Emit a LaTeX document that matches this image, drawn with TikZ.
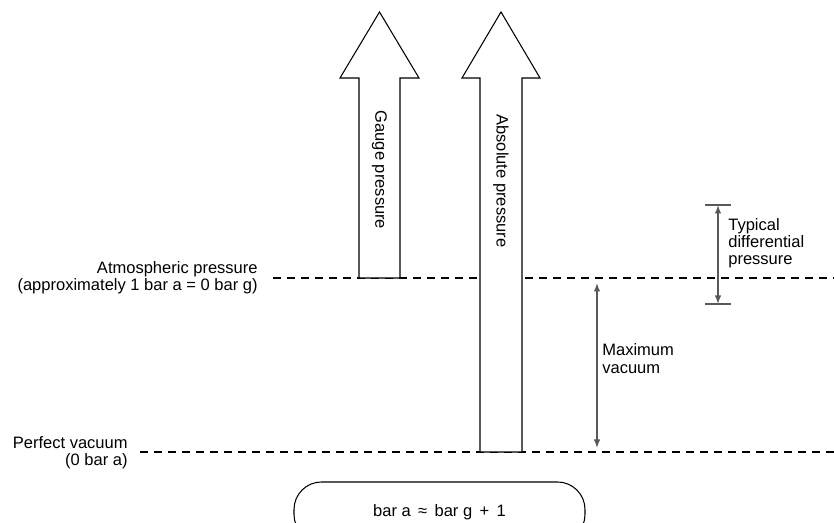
\documentclass[tikz,border=0pt]{standalone}
\usepackage{fontspec}
\setmainfont{Liberation Sans}
\usetikzlibrary{arrows.meta,positioning,calc}

\begin{document}
\begin{tikzpicture}[
  lbl/.style={inner sep=0pt, font=\fontsize{9.4}{9.8}\selectfont},
  level/.style={draw, line width=0.6pt, dash pattern=on 0.16cm off 0.12cm},
  bigarr/.style={draw, fill=white, line width=0.6pt, line join=miter},
  dim/.style={{Latex[length=1.7mm,width=1.3mm]}-{Latex[length=1.7mm,width=1.3mm]},
    draw=black!65, line width=0.8pt},
  bar/.style={draw=black!65, line width=0.8pt},
  formula/.style={draw, line width=0.6pt, rounded corners=0.55cm,
    minimum width=5.82cm, minimum height=1.2cm, font=\fontsize{9.4}{9.8}\selectfont}]
\useasboundingbox (0,0) rectangle (16.68,10.46);
\clip (0,0) rectangle (16.68,10.46);
% levels
\coordinate (atmL) at (5.46,4.90);
\coordinate (atmR) at (16.68,4.90);
\coordinate (vacL) at (2.80,1.42);
\coordinate (vacR) at (16.68,1.42);
\draw[level] (atmL) -- (atmR);
\draw[level] (vacL) -- (vacR);
\node[lbl, anchor=east, align=right] (atm) at (5.16,4.91)
  {Atmospheric pressure\\(approximately 1 bar a = 0 bar g)};
\node[lbl, anchor=east, align=right] (vac) at (2.56,1.40)
  {Perfect vacuum\\(0 bar a)};
% gauge arrow
\draw[bigarr] (7.18,4.90) -- (7.18,8.90) -- (6.80,8.90) -- (7.59,10.22)
  -- (8.38,8.90) -- (8.00,8.90) -- (8.00,4.90) -- cycle;
\node[lbl, rotate=-90] (gauge) at (7.59,7.06) {Gauge pressure};
% absolute arrow
\draw[bigarr] (9.60,1.42) -- (9.60,8.90) -- (9.24,8.90) -- (10.02,10.22)
  -- (10.80,8.90) -- (10.44,8.90) -- (10.44,1.42) -- cycle;
\node[lbl, rotate=-90] (abs) at (10.02,6.84) {Absolute pressure};
% maximum vacuum
\coordinate (mvT) at (11.94,4.80);
\coordinate (mvB) at (11.94,1.50);
\draw[dim] (mvT) -- (mvB);
\node[lbl, anchor=west, align=left] (mv) at (12.04,3.29) {Maximum\\vacuum};
% typical differential pressure
\coordinate (tdT) at (14.36,6.36);
\coordinate (tdB) at (14.36,4.38);
\draw[bar] ([xshift=-2.6mm]tdT) -- ([xshift=2.6mm]tdT);
\draw[bar] ([xshift=-2.6mm]tdB) -- ([xshift=2.6mm]tdB);
\draw[dim] (tdT) -- (tdB);
\node[lbl, anchor=west, align=left] (td) at (14.56,5.60)
  {Typical\\differential\\pressure};
% relation
\node[formula] (rel) at (8.79,0.22) {bar a\, ≈\, bar g\, +\, 1};
\end{tikzpicture}
\end{document}
